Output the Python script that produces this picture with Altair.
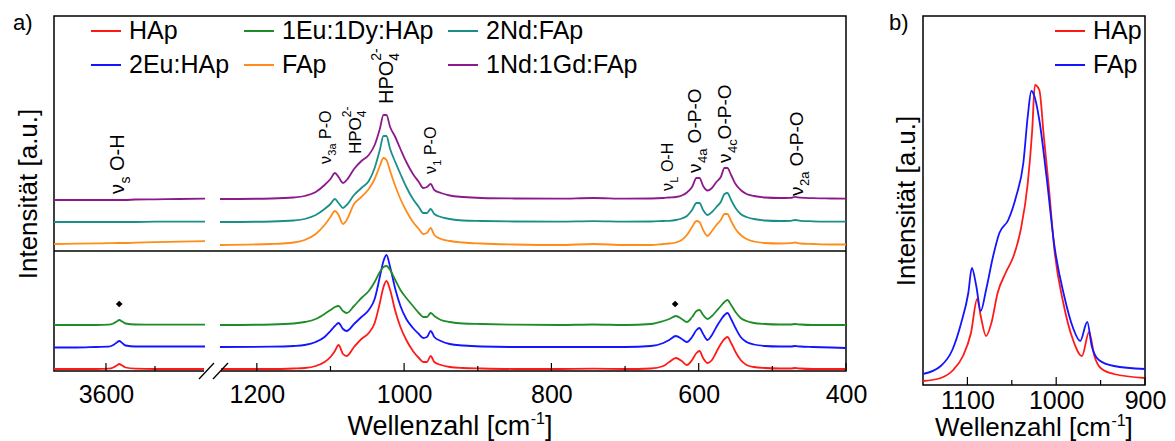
import altair as alt
import pandas as pd

FONT = "Liberation Sans"

# ---------------- panel a: data ----------------
# legend is filled column by column: (HAp, 2Eu:HAp), (1Eu:1Dy:HAp, FAp), (2Nd:FAp, 1Nd:1Gd:FAp)
SERIES_A = ["HAp", "2Eu:HAp", "1Eu:1Dy:HAp", "FAp", "2Nd:FAp", "1Nd:1Gd:FAp"]
COLORS_A = ["#ff1a1a", "#1414ff", "#1f8c2a", "#ff8c1a", "#1a8f8a", "#8c1a8c"]
OFFSETS_A = [2, 24, 46, 127, 149, 172]

# O-H stretching region (left piece of broken axis)
WN_OH = [3706, 3660, 3620, 3595, 3585, 3578, 3573, 3567, 3560, 3540, 3500, 3450, 3398]
OH_HAP = [0, 0, 0, 0.3, 1.5, 3.5, 5, 3.5, 1.5, 0.3, 0, 0, 0]
OH_EUHAP = [-0.5, -0.5, 0, 0.3, 2, 4.5, 6, 4, 1.5, 0.5, 0.5, 0.5, 0.5]
OH_EUDY = [0, 0, 0, 0.3, 1.5, 3.5, 5, 3.5, 1.5, 0.5, 0.3, 0.3, 0.3]
OH_FAP = [0, 0.3, 0.6, 0.8, 0.9, 1, 1, 1, 1, 1.3, 1.8, 2.3, 2.8]
OH_NDFAP = [0, 0, 0, 0, 0, 0, 0, 0, 0, 0, 0.3, 0.3, 0.3]
OH_NDGD = [-1, -1, -1, -1, -1, -1, -1, -1, -1, -0.5, -0.3, 0, 0.3]

# phosphate region (right piece of broken axis)
WN_PO = [1250, 1180, 1150, 1135, 1120, 1108, 1100, 1094, 1089, 1083,
         1078, 1068, 1058, 1048, 1040, 1033, 1028, 1024, 1019, 1012,
         1005, 997, 988, 980, 974, 969, 964, 959, 950, 938,
         920, 895, 850, 790, 743, 700, 665, 648, 640, 631,
         623, 616, 609, 603, 599, 594, 588, 582, 576, 570,
         565, 561, 556, 550, 543, 535, 525, 510, 490, 475,
         469, 462, 445, 420, 400]
PO_HAP = [0, 0, 0.5, 1, 3, 7, 12, 18, 24, 15,
          13, 22, 30, 36, 46, 66, 82, 88, 79, 58,
          42, 29, 18, 11, 7, 7, 13, 7, 4, 2,
          1, 0.5, 0, 0, 0.3, 0, 0.5, 3, 7, 11,
          8, 4, 9, 16, 18, 11, 6, 9, 17, 25,
          30, 32, 26, 17, 9, 4, 2, 1, 0.5, 0.5,
          1, 0.5, 0, 0, 0]
PO_EUHAP = [0, 0.3, 1, 2, 5, 10, 16, 21, 24, 18,
            16, 23, 30, 37, 48, 70, 86, 92, 80, 58,
            41, 28, 19, 13, 9, 10, 16, 10, 6, 3,
            1.5, 0.5, 0, 0, 0, 0, 1, 4, 7, 11,
            8, 5, 10, 17, 19, 13, 7, 12, 20, 27,
            32, 34, 28, 19, 10, 5, 2.5, 1, 0.5, 0.5,
            1, 0.5, 0, -0.5, -1]
PO_EUDY = [0, 0.5, 1.5, 3, 6, 11, 15, 18, 19, 14,
           12, 19, 27, 34, 43, 53, 58, 59, 55, 45,
           35, 27, 19, 12, 8, 8, 12, 9, 5, 3,
           1.5, 1, 0.3, 0, 0.5, 0, 1, 4, 6, 9,
           6, 3, 8, 14, 15, 10, 6, 9, 14, 19,
           23, 25, 20, 13, 7, 4, 2, 1, 0.5, 0.5,
           1, 0.5, 0, 0, 0]
PO_FAP = [-1, 0, 1.5, 4, 10, 19, 27, 33, 29, 20,
          24, 40, 47, 55, 65, 78, 86, 84, 73, 58,
          45, 33, 22, 15, 10, 11, 16, 9, 5, 3,
          1.5, 0.5, -0.5, -1, 0, -1, -1, 0, 0.5, 1.5,
          4, 9, 17, 23, 22, 14, 8, 13, 19, 24,
          30, 30, 23, 15, 9, 5, 2.5, 1, 0.5, 0.8,
          1.5, 0.5, 0, -0.5, -0.5]
PO_NDFAP = [0, 0.5, 1.5, 3, 7, 13, 18, 23, 19, 14,
            17, 27, 34, 41, 54, 72, 86, 86, 73, 60,
            48, 35, 23, 15, 9, 9, 13, 8, 5, 3,
            1.5, 1, 0.5, 0.3, 0.8, 0.3, 0.5, 1, 1.2, 2,
            3.5, 6, 12, 19, 19, 12, 7, 10, 15, 20,
            28, 29, 22, 14, 8, 5, 3, 1.5, 1, 1.2,
            2, 1.2, 0.7, 0.4, 0.3]
PO_NDGD = [0, 0.5, 1.5, 3, 7, 14, 20, 26, 22, 16,
           19, 30, 38, 44, 54, 70, 84, 84, 72, 62,
           50, 37, 25, 17, 11, 12, 15, 9, 6, 3.5,
           2, 1, 0.5, 0.3, 1, 0.3, 0.5, 1, 1.5, 2,
           3.5, 6.5, 12, 21, 21, 13, 8.5, 11, 17, 22,
           31, 31, 24, 15, 9, 5, 3, 1.5, 1, 1.2,
           2.2, 1.3, 0.8, 0.5, 0.3]

OH_LISTS = [OH_HAP, OH_EUHAP, OH_EUDY, OH_FAP, OH_NDFAP, OH_NDGD]
PO_LISTS = [PO_HAP, PO_EUHAP, PO_EUDY, PO_FAP, PO_NDFAP, PO_NDGD]

DIVIDER = 120
DIAMOND_WN = [3573, 632]
DIAMOND_Y = [67, 67]

TICKS_A_MAJOR = [3600, 1200, 1000, 800, 600, 400]
TICKS_A_MINOR = [3500, 1100, 900, 700, 500]

ANN_WN = [3563, 1099, 1059, 1015, 957, 635, 597, 556, 458]
ANN_Y = [177, 207, 217, 267, 197, 180, 198, 208, 175]
ANN_PARTS = [
    [("ν", "m"), ("s", "b"), (" O-H", "m")],
    [("ν", "m"), ("3a", "b"), (" P-O", "m")],
    [("HPO", "m"), ("4", "b"), ("2-", "p")],
    [("HPO", "m"), ("4", "b"), ("2-", "p")],
    [("ν", "m"), ("1", "b"), (" P-O", "m")],
    [("ν", "m"), ("L", "b"), (" O-H", "m")],
    [("ν", "m"), ("4a", "b"), (" O-P-O", "m")],
    [("ν", "m"), ("4c", "b"), ("O-P-O", "m")],
    [("ν", "m"), ("2a", "b"), (" O-P-O", "m")],
]
ANN_SIZE = [20, 16, 17, 20, 16, 16, 19, 19, 19]

# ---------------- panel b: data ----------------
SERIES_B = ["HAp", "FAp"]
COLORS_B = ["#ff1a1a", "#1414ff"]
B_WN_HAP = [1150, 1130, 1116, 1105, 1096, 1089, 1085, 1079, 1073, 1066, 1057, 1048, 1040, 1032,
            1027, 1024, 1019, 1014, 1008, 1002, 992, 981, 971, 963, 957, 950, 935, 900]
B_HAP = [4, 7, 15, 29, 52, 86, 69, 49, 62, 92, 112, 129, 155, 202,
         255, 300, 295, 249, 195, 135, 82, 45, 29, 53, 29, 17, 11, 7]
B_WN_FAP = [1150, 1130, 1117, 1107, 1099, 1095, 1090, 1085, 1079, 1071, 1064, 1054, 1045, 1037,
            1032, 1028, 1025, 1019, 1011, 1002, 991, 981, 973, 965, 960, 952, 935, 900]
B_FAP = [11, 19, 35, 62, 92, 117, 99, 74, 95, 129, 152, 165, 189, 222,
         269, 294, 290, 265, 209, 139, 89, 57, 44, 63, 39, 25, 19, 16]
TICKS_B_MAJOR = [1100, 1000, 900]
TICKS_B_MINOR = [1050, 950]

# ---------------- layout constants ----------------
W_A, H_A = 792, 355
W_B, H_B = 222, 369
BREAK_DOMAIN = [3706, 3398, 1250, 400]
BREAK_RANGE = [0, 151, 166, W_A]

WID = {' ': 0.278, '-': 0.333, 'H': 0.722, 'O': 0.778, 'P': 0.667, 'ν': 0.52,
       '1': 0.556, '2': 0.556, '3': 0.556, '4': 0.556, 'a': 0.556, 'c': 0.5,
       's': 0.5, 'L': 0.556, 'W': 0.944, 'e': 0.556, 'l': 0.222, 'n': 0.556,
       'z': 0.5, 'h': 0.556, '[': 0.278, ']': 0.278, 'm': 0.833}


def tw(s, size):
    return sum(WID.get(c, 0.556) for c in s) * size


xs_a = alt.Scale(domain=BREAK_DOMAIN, range=BREAK_RANGE, zero=False, nice=False)
ys_a = alt.Scale(domain=[0, H_A], zero=False, nice=False)
xs_b = alt.Scale(domain=[1150, 900], zero=False, nice=False)
ys_b = alt.Scale(domain=[0, H_B], zero=False, nice=False)


def x_axis(values, pad):
    return alt.Axis(values=values, ticks=False, tickSize=0, domain=False, grid=False,
                    labelFont=FONT, labelFontSize=25, labelColor="black", labelPadding=pad,
                    labelOverlap=False, labelFlush=False, format="d", title=None)


def y_axis(pad):
    return alt.Axis(labels=False, ticks=False, tickSize=0, domain=False, grid=False,
                    title="Intensität [a.u.]", titleFont=FONT, titleFontSize=26,
                    titleFontWeight="normal", titleColor="black", titlePadding=pad)


XA = alt.X("wn:Q", scale=xs_a, axis=x_axis(TICKS_A_MAJOR, 11))
YA = alt.Y("val:Q", scale=ys_a, axis=y_axis(13))
XB = alt.X("wn:Q", scale=xs_b, axis=x_axis(TICKS_B_MAJOR, 3))
YB = alt.Y("val:Q", scale=ys_b, axis=y_axis(4))

rows = []
for name, off, oh, po in zip(SERIES_A, OFFSETS_A, OH_LISTS, PO_LISTS):
    for w, v in zip(WN_OH, oh):
        rows.append({"wn": w, "val": off + v, "probe": name, "seg": "oh"})
    for w, v in zip(WN_PO, po):
        rows.append({"wn": w, "val": off + v, "probe": name, "seg": "po"})
df_a = pd.DataFrame(rows)

lines_a = alt.Chart(df_a).mark_line(interpolate="monotone", strokeWidth=1.8).encode(
    x=XA, y=YA,
    color=alt.Color("probe:N", scale=alt.Scale(domain=SERIES_A, range=COLORS_A),
                    legend=alt.Legend(orient="none", legendX=36, legendY=-1, columns=3, title=None,
                                      symbolType="stroke", symbolSize=900, symbolStrokeWidth=2,
                                      labelFont=FONT, labelFontSize=25, labelColor="black", labelOffset=7,
                                      columnPadding=10, rowPadding=5, padding=0, labelLimit=400)),
    detail="seg:N",
)

divider = alt.Chart(pd.DataFrame({"val": [DIVIDER]})).mark_rule(color="black", strokeWidth=1.5).encode(
    y=YA, x=alt.value(0), x2=alt.value(W_A))

tick_major_a = alt.Chart(pd.DataFrame({"wn": TICKS_A_MAJOR})).mark_rule(color="black", strokeWidth=1.2).encode(
    x=XA, y=alt.value(H_A), y2=alt.value(H_A - 8))
tick_minor_a = alt.Chart(pd.DataFrame({"wn": TICKS_A_MINOR})).mark_rule(color="black", strokeWidth=1.2).encode(
    x=XA, y=alt.value(H_A), y2=alt.value(H_A - 5))

gap_df = pd.DataFrame({"k": [0]})
gap = alt.Chart(gap_df).mark_rect(color="white").encode(
    x=alt.value(BREAK_RANGE[1] - 1), x2=alt.value(BREAK_RANGE[2] + 1), y=alt.value(H_A - 3), y2=alt.value(H_A + 3))
slash1 = alt.Chart(gap_df).mark_rule(color="black", strokeWidth=1.3).encode(
    x=alt.value(145), x2=alt.value(160), y=alt.value(H_A + 8), y2=alt.value(H_A - 8))
slash2 = alt.Chart(gap_df).mark_rule(color="black", strokeWidth=1.3).encode(
    x=alt.value(159), x2=alt.value(174), y=alt.value(H_A + 8), y2=alt.value(H_A - 8))

diamonds = alt.Chart(pd.DataFrame({"wn": DIAMOND_WN, "val": DIAMOND_Y})).mark_point(
    shape="diamond", filled=True, color="black", size=45, opacity=1).encode(x=XA, y=YA)


def text_piece(wn, yv, text, size, dx, dy):
    df = pd.DataFrame({"wn": [wn], "val": [yv], "t": [text]})
    return alt.Chart(df).mark_text(angle=270, align="left", baseline="alphabetic", fontSize=size,
                                   dx=round(dx, 1), dy=dy, font=FONT, color="black").encode(
        x=XA, y=YA, text="t:N")


ann_layers = []
for wn, yv, parts, f in zip(ANN_WN, ANN_Y, ANN_PARTS, ANN_SIZE):
    adv = 0.0
    last_start = 0.0
    for text, kind in parts:
        lead = len(text) - len(text.lstrip(" "))
        t = text.strip()
        if kind == "m":
            size, dy = f, 0
            start = adv + lead * WID[' '] * f
            adv = start + tw(t, f)
        elif kind == "b":
            size, dy = round(f * 0.7), round(f * 0.3)
            start = adv
            last_start = start
            adv = start + tw(t, size)
        else:
            size, dy = round(f * 0.7), -round(f * 0.6)
            start = last_start
            adv = max(adv, start + tw(t, size))
        ann_layers.append(text_piece(wn, yv, t, size, start, dy))


def xtitle(width, ybase, f=27):
    parts = [("Wellenzahl [cm", f, 0), ("-1", round(f * 0.6), -round(f * 0.4)), ("]", f, 0)]
    total = sum(tw(t, s) for t, s, _ in parts)
    x = width / 2 - total / 2
    out = []
    for t, s, dy in parts:
        out.append(alt.Chart(pd.DataFrame({"t": [t]})).mark_text(
            align="left", baseline="alphabetic", fontSize=s, font=FONT, color="black").encode(
            x=alt.value(round(x, 1)), y=alt.value(ybase + dy), text="t:N"))
        x += tw(t, s)
    return out


def panel_label(txt, xpos):
    return alt.Chart(pd.DataFrame({"t": [txt]})).mark_text(
        align="left", baseline="top", fontSize=22, font=FONT, color="black").encode(
        x=alt.value(xpos), y=alt.value(-3), text="t:N")


panel_a = alt.layer(
    lines_a, divider, tick_major_a, tick_minor_a, gap, slash1, slash2, diamonds,
    *ann_layers, *xtitle(W_A, H_A + 64), panel_label("a)", -41)
).properties(width=W_A, height=H_A)

# ---------------- panel b ----------------
rows_b = []
for w, v in zip(B_WN_HAP, B_HAP):
    rows_b.append({"wn": w, "val": v, "probe_b": "HAp"})
for w, v in zip(B_WN_FAP, B_FAP):
    rows_b.append({"wn": w, "val": v, "probe_b": "FAp"})
df_b = pd.DataFrame(rows_b)

lines_b = alt.Chart(df_b).mark_line(interpolate="monotone", strokeWidth=1.8).encode(
    x=XB, y=YB,
    color=alt.Color("probe_b:N", scale=alt.Scale(domain=SERIES_B, range=COLORS_B),
                    legend=alt.Legend(orient="none", legendX=131, legendY=-1, title=None,
                                      symbolType="stroke", symbolSize=900, symbolStrokeWidth=2,
                                      labelFont=FONT, labelFontSize=25, labelColor="black", labelOffset=7,
                                      rowPadding=5, padding=0)),
)
tick_major_b = alt.Chart(pd.DataFrame({"wn": TICKS_B_MAJOR})).mark_rule(color="black", strokeWidth=1.2).encode(
    x=XB, y=alt.value(H_B), y2=alt.value(H_B - 8))
tick_minor_b = alt.Chart(pd.DataFrame({"wn": TICKS_B_MINOR})).mark_rule(color="black", strokeWidth=1.2).encode(
    x=XB, y=alt.value(H_B), y2=alt.value(H_B - 5))

panel_b = alt.layer(
    lines_b, tick_major_b, tick_minor_b, *xtitle(W_B, H_B + 51, 26), panel_label("b)", -34)
).properties(width=W_B, height=H_B)

chart = alt.hconcat(panel_a, panel_b, spacing=20).resolve_scale(
    color="independent", x="independent", y="independent"
).properties(
    padding={"left": 12, "top": 11, "right": 2, "bottom": 2}, background="white"
).configure_view(stroke="black", strokeWidth=1.5)

chart.save("out.html", embed_options={"renderer": "svg", "actions": False})
